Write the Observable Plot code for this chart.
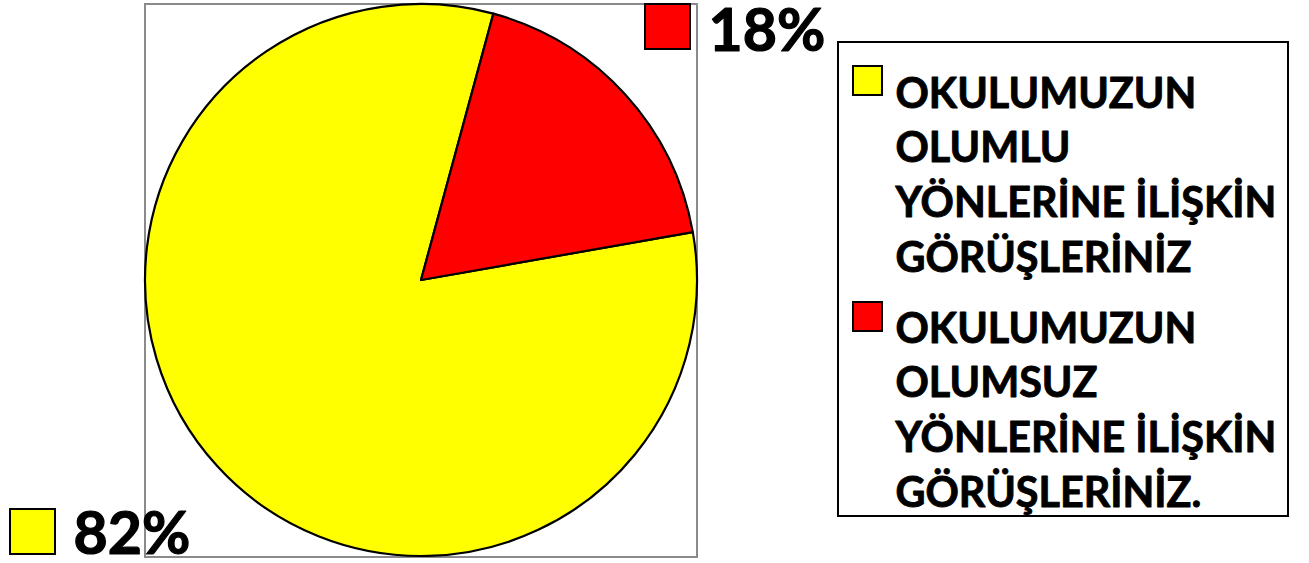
<!DOCTYPE html>
<html><head><meta charset="utf-8">
<script src="https://cdn.jsdelivr.net/npm/d3@7"></script>
<script src="https://cdn.jsdelivr.net/npm/@observablehq/plot@0.6"></script>
<style>
body{margin:0;background:#fff;}
#chart svg{font-family:Lato,"Noto Sans",sans-serif;}
</style>
</head><body><div id="chart"></div>
<script>
const categories = [
  "OKULUMUZUN\nOLUMLU\nYÖNLERİNE İLİŞKİN\nGÖRÜŞLERİNİZ",
  "OKULUMUZUN\nOLUMSUZ\nYÖNLERİNE İLİŞKİN\nGÖRÜŞLERİNİZ."
];
const values = [82, 18];
const colors = ["#FFFF00", "#FF0000"];
const percentLabels = ["82%", "18%"];

const data = categories.map((c, i) => ({category: c, value: values[i], color: colors[i], label: percentLabels[i]}));

const W = 1309, H = 563;
const cx = 421, cy = 280, r = 276;
const start = 80 * Math.PI / 180;
const arcs = d3.pie().value(d => d.value).sort(null).startAngle(start).endAngle(start + 2 * Math.PI)(data);
const arcGen = d3.arc().innerRadius(0).outerRadius(r);

const pieMark = (index, scales) => {
  const g = d3.create("svg:g").attr("transform", `translate(${scales.x(cx)},${scales.y(cy)})`);
  g.selectAll("path").data(arcs).join("path")
    .attr("d", arcGen)
    .attr("fill", d => d.data.color)
    .attr("stroke", "#000")
    .attr("stroke-width", 2.2)
    .attr("stroke-linejoin", "round");
  return g.node();
};

const legendTop = [68, 303];
const swatchTop = [66, 302];
const pctSwatch = [{x1: 10, y1: 509}, {x1: 645, y1: 4}];
const pctText = [{x: 73, y: 553}, {x: 708, y: 50}];

const chart = Plot.plot({
  width: W, height: H,
  margin: 0,
  x: {domain: [0, W], range: [0, W], axis: null},
  y: {domain: [0, H], range: [0, H], axis: null},
  marks: [
    Plot.rect([0], {x1: cx - r, x2: cx + r, y1: cy - r, y2: cy + r + 1, fill: "none", stroke: "#8a8a8a", strokeWidth: 2}),
    pieMark,
    // legend box
    Plot.rect([0], {x1: 838, x2: 1288, y1: 42, y2: 516, fill: "white", stroke: "#000", strokeWidth: 2}),
    Plot.rect(data, {x1: 853, x2: 882, y1: (d, i) => swatchTop[i], y2: (d, i) => swatchTop[i] + 29, fill: "color", stroke: "#000", strokeWidth: 2}),
    Plot.text(data, {x: 895, y: (d, i) => legendTop[i], text: "category", textAnchor: "start", lineAnchor: "top", lineHeight: 1.33, fontSize: 41.3, fontWeight: "bold", fill: "#000", stroke: "#000", strokeWidth: 0.9}),
    // percentage labels
    Plot.rect(data, {x1: (d, i) => pctSwatch[i].x1, x2: (d, i) => pctSwatch[i].x1 + 45, y1: (d, i) => pctSwatch[i].y1, y2: (d, i) => pctSwatch[i].y1 + 45, fill: "color", stroke: "#000", strokeWidth: 2}),
    Plot.text(data, {x: (d, i) => pctText[i].x, y: (d, i) => pctText[i].y, text: "label", textAnchor: "start", lineAnchor: "bottom", fontSize: 59, fontWeight: "bold", fill: "#000", stroke: "#000", strokeWidth: 1.2})
  ]
});
document.getElementById("chart").append(chart);
</script>
</body></html>
